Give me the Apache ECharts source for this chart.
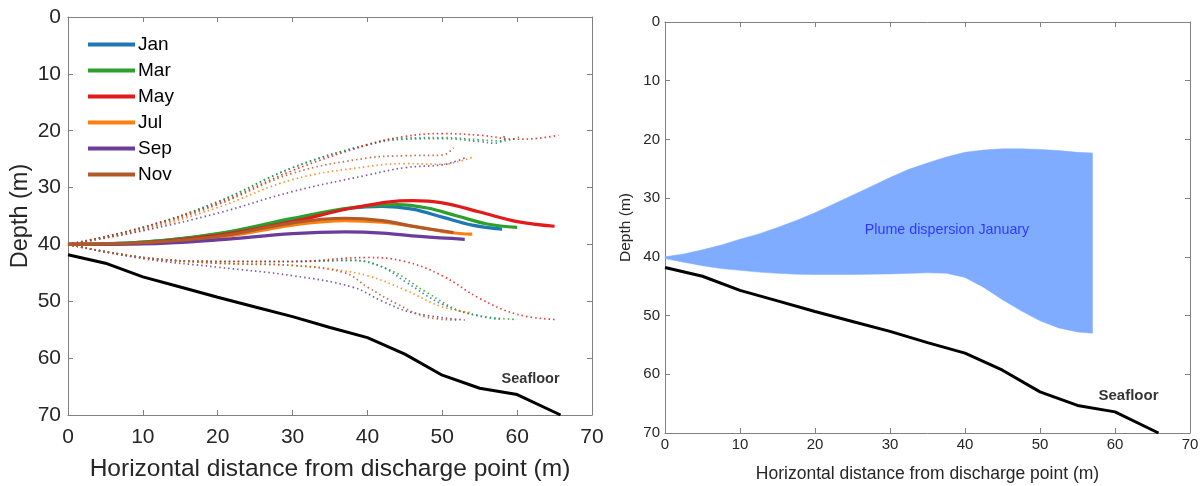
<!DOCTYPE html>
<html><head><meta charset="utf-8">
<script src="https://cdn.jsdelivr.net/npm/echarts@6/dist/echarts.min.js"></script>
<style>html,body{margin:0;padding:0;background:#fff}#c{width:1200px;height:486px}</style>
</head><body><div id="c"></div>
<script>
// ---- data ----
const months = ['Jan','Mar','May','Jul','Sep','Nov'];
const monthColors = ['#1f77b4','#2ca02c','#e31a1c','#ff7f0e','#6a3d9a','#b15928'];
const seafloor = [[0,41.8],[5,43.3],[10,45.7],[15,47.5],[20,49.3],[25,51],[30,52.7],[35,54.6],[40,56.4],[45,59.3],[50,63],[55,65.3],[60,66.4],[65.8,70]];
const centerJan = [[0,40],[10,39.6],[20,38.2],[30,35.6],[38,33.6],[42,33.3],[46,33.8],[50,35.2],[54,36.6],[58,37.3]];
const centerMar = [[0,40],[10,39.6],[20,38.1],[30,35.4],[38,33.5],[44,33],[48,33.6],[52,35],[56,36.4],[60,37]];
const centerMay = [[0,40],[10,39.7],[20,38.4],[30,36],[38,33.6],[46,32.3],[50,32.7],[55,34.3],[60,36],[65,36.8]];
const centerJul = [[0,40],[10,39.8],[20,38.8],[30,36.6],[37,35.8],[42,36.1],[47,37],[51,37.9],[54,38.2]];
const centerSep = [[0,40],[10,39.9],[20,39.2],[30,38.1],[37,37.8],[42,38],[47,38.6],[53,39.1]];
const centerNov = [[0,40],[10,39.7],[20,38.6],[30,36.2],[37,35.4],[42,35.8],[46,36.8],[51.5,37.9]];
const upperJan = [[0,40],[10,37],[20,32.5],[30,26.5],[40,22.5],[45,21.5],[50,21.4],[55,21.9],[57,22.2],[58.5,21.2],[58,21]];
const upperMar = [[0,40],[10,37],[20,32.5],[30,26.5],[40,22.4],[45,21.3],[50,21.2],[55,21.6],[58,21.8],[60.5,21]];
const upperMay = [[0,40],[10,37],[20,32.8],[30,27],[40,22.5],[45,21],[50,20.5],[55,20.8],[60,21.5],[63,21.3],[65.5,20.8]];
const upperJul = [[0,40],[10,37.5],[20,33.5],[30,28.6],[40,26.3],[45,25.8],[50,25.9],[52.5,25.3],[54,24.7]];
const upperSep = [[0,40],[10,37.6],[20,34.5],[30,30.7],[40,27.8],[45,26.5],[50,26],[52,25.3],[53,24.8]];
const upperNov = [[0,40],[10,37.3],[20,33],[30,27.5],[40,24.8],[45,24.4],[50,24.3],[51.5,23]];
const lowerJan = [[0,40],[10,42.3],[20,43],[30,43],[38,42.8],[42,44],[45,46.5],[50,50.5],[55,52.6],[58,53.2]];
const lowerMar = [[0,40],[10,42.3],[20,43],[30,43],[38,42.8],[43,44.5],[48,48.5],[53,52],[60,53.2]];
const lowerMay = [[0,40],[10,42.3],[20,43],[30,43],[40,42.3],[45,43],[50,45.5],[55,49.5],[60,52.3],[65,53.2]];
const lowerJul = [[0,40],[10,42.3],[20,43.3],[30,43.7],[35,44.3],[40,45.5],[45,48],[50,51],[54,52]];
const lowerSep = [[0,40],[10,42.5],[20,44],[30,45.5],[38,47.5],[42,50],[46,52],[53,53.3]];
const lowerNov = [[0,40],[10,42.3],[20,43.3],[30,43.7],[37,45],[40,47.5],[44,50.5],[48,52.8],[52,53.3]];
const centers = [centerJan,centerMar,centerMay,centerJul,centerSep,centerNov];
const uppers = [upperJan,upperMar,upperMay,upperJul,upperSep,upperNov];
const lowers = [lowerJan,lowerMar,lowerMay,lowerJul,lowerSep,lowerNov];
// right panel: January plume envelope
const plumeUpper = [[0,40],[2.5,39.5],[5,38.8],[7.5,38],[10,37],[12.5,36.1],[15,35],[17.5,33.8],[20,32.5],[22.5,31],[25,29.5],[27.5,28],[30,26.5],[32.5,25.1],[35,24],[37.5,23],[40,22.2],[42.5,21.8],[45,21.6],[47.5,21.6],[50,21.7],[52.5,21.9],[55,22.2],[57,22.3]];
const plumeLower = [[0,40.3],[2.5,40.9],[5,41.5],[7.5,42],[10,42.3],[12.5,42.6],[15,42.8],[17.5,42.95],[20,43],[25,43],[30,42.9],[35,42.7],[37.5,42.8],[40,43.5],[42.5,45.2],[45,47.3],[47.5,49.2],[50,50.9],[52.5,52.1],[55,52.8],[57,53]];
const seafloorLabel = [[61.8,63.6]];
const plumeLabel = [[37.6,35.5]];

const FONT = 'Liberation Sans, Arial, sans-serif';
const chart = echarts.init(document.getElementById('c'));
const AX = '#808080';
const TXT = '#262626';

function xAx(gi, fs, nameFs, nameGap, margin){
  return {type:'value', gridIndex:gi, position:'bottom', min:0, max:70, interval:10,
    name:'Horizontal distance from discharge point (m)', nameLocation:'middle', nameGap:nameGap,
    nameTextStyle:{fontFamily:FONT,fontSize:nameFs,color:TXT},
    axisLine:{show:true,onZero:false,lineStyle:{color:AX}}, axisTick:{inside:true,length:5,lineStyle:{color:AX}},
    axisLabel:{fontFamily:FONT,fontSize:fs,color:TXT,margin:margin}, splitLine:{show:false}};
}
function yAx(gi, fs, nameFs, nameGap, margin){
  return {type:'value', gridIndex:gi, position:'left', min:0, max:70, interval:10, inverse:true,
    name:'Depth (m)', nameLocation:'middle', nameGap:nameGap,
    nameTextStyle:{fontFamily:FONT,fontSize:nameFs,color:TXT},
    axisLine:{show:true,onZero:false,lineStyle:{color:AX}}, axisTick:{inside:true,length:5,lineStyle:{color:AX}},
    axisLabel:{fontFamily:FONT,fontSize:fs,color:TXT,margin:margin}, splitLine:{show:false}};
}
function xTop(gi){return {type:'value',gridIndex:gi,position:'top',min:0,max:70,interval:10,axisLine:{show:true,onZero:false,lineStyle:{color:AX}},axisTick:{inside:true,length:5,lineStyle:{color:AX}},axisLabel:{show:false},splitLine:{show:false}};}
function yRight(gi){return {type:'value',gridIndex:gi,position:'right',min:0,max:70,interval:10,inverse:true,axisLine:{show:true,onZero:false,lineStyle:{color:AX}},axisTick:{inside:true,length:5,lineStyle:{color:AX}},axisLabel:{show:false},splitLine:{show:false}};}

const series = [];
months.forEach((m,i)=>{
  series.push({name:m+' upper',type:'line',xAxisIndex:0,yAxisIndex:0,data:uppers[i],smooth:0.4,symbol:'none',
    lineStyle:{color:monthColors[i],width:1.7,type:[1.5,3],opacity:0.85},z:2});
  series.push({name:m+' lower',type:'line',xAxisIndex:0,yAxisIndex:0,data:lowers[i],smooth:0.4,symbol:'none',
    lineStyle:{color:monthColors[i],width:1.7,type:[1.5,3],opacity:0.85},z:2});
});
months.forEach((m,i)=>{
  series.push({name:m,type:'line',xAxisIndex:0,yAxisIndex:0,data:centers[i],smooth:0.4,symbol:'none',
    itemStyle:{color:monthColors[i]},lineStyle:{color:monthColors[i],width:3.2},z:3});
});
series.push({name:'Seafloor',type:'line',xAxisIndex:0,yAxisIndex:0,data:seafloor,symbol:'none',
  lineStyle:{color:'#000',width:3},z:4});
series.push({name:'SeafloorLabelL',type:'scatter',xAxisIndex:0,yAxisIndex:0,data:seafloorLabel,symbolSize:0,
  label:{show:true,position:'inside',formatter:'Seafloor',fontFamily:FONT,fontSize:14.5,fontWeight:'bold',color:'#000'},z:5});
// right panel
series.push({name:'Plume',type:'custom',xAxisIndex:2,yAxisIndex:2,data:[0],
  renderItem:function(params,api){
    const pts=[];
    plumeUpper.forEach(p=>pts.push(api.coord(p)));
    plumeLower.slice().reverse().forEach(p=>pts.push(api.coord(p)));
    return {type:'polygon',shape:{points:pts},style:{fill:'#80acff',stroke:'#80acff',lineWidth:0.5}};
  },z:2,silent:true});
series.push({name:'Seafloor R',type:'line',xAxisIndex:2,yAxisIndex:2,data:seafloor,symbol:'none',
  lineStyle:{color:'#000',width:3},z:4});
series.push({name:'SeafloorLabelR',type:'scatter',xAxisIndex:2,yAxisIndex:2,data:seafloorLabel,symbolSize:0,
  label:{show:true,position:'inside',formatter:'Seafloor',fontFamily:FONT,fontSize:15,fontWeight:'bold',color:'#000'},z:5});
series.push({name:'PlumeLabel',type:'scatter',xAxisIndex:2,yAxisIndex:2,data:plumeLabel,symbolSize:0,
  label:{show:true,position:'inside',formatter:'Plume dispersion January',fontFamily:FONT,fontSize:14.3,color:'#1a1aff'},z:5});

chart.setOption({
  animation:false,
  backgroundColor:'#fff',
  grid:[{left:68,right:608,top:17,bottom:71,outerBoundsMode:'none',containLabel:false},
        {left:665,right:10,top:22,bottom:53,outerBoundsMode:'none',containLabel:false}],
  xAxis:[xAx(0,21,24.5,42,12), xTop(0), xAx(1,15,17.5,32,4), xTop(1)],
  yAxis:[yAx(0,21,23.5,35,7), yRight(0), yAx(1,15,15.5,31,5), yRight(1)],
  legend:{data:months,orient:'vertical',left:83,top:30,itemWidth:47,itemHeight:4,itemGap:7,icon:'rect',
    textStyle:{fontFamily:FONT,fontSize:19,lineHeight:17,color:'#000',padding:[0,0,0,-2]}},
  series:series
});
</script></body></html>
